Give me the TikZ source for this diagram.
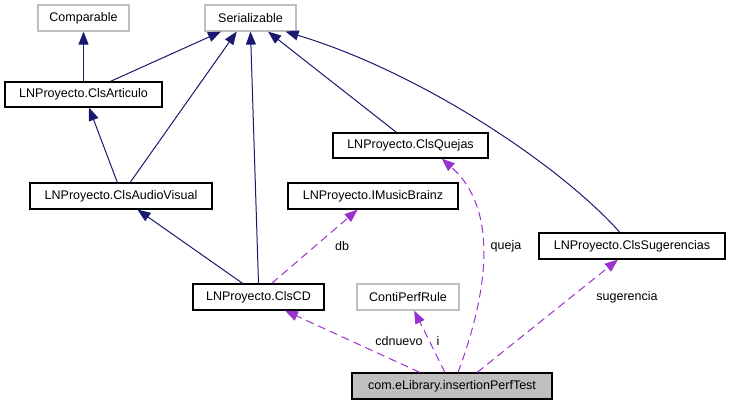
\documentclass[tikz,border=0pt]{standalone}
\usepackage{fontspec}
\setmainfont{Liberation Sans}
\usetikzlibrary{arrows.meta,calc}
\definecolor{navy}{RGB}{25,25,112}
\definecolor{orchid}{RGB}{154,50,205}
\definecolor{lgray}{RGB}{191,191,191}
\begin{document}
\begin{tikzpicture}[x=1bp,y=-1bp,
  txt/.style={font=\fontsize{12.5bp}{14bp}\selectfont},
  cls/.style={txt,draw=black,line width=1.2bp,rectangle,inner sep=0pt,minimum height=26bp},
  ext/.style={cls,draw=lgray},
  cur/.style={cls,fill=lgray},
  inh/.style={draw=navy,line width=1bp,-{Triangle[length=13bp,width=10bp]}},
  use/.style={draw=orchid,line width=1bp,dash pattern=on 8bp off 5bp,-{Triangle[length=13bp,width=10bp]}},
  lbl/.style={txt,inner sep=0pt}]
\useasboundingbox (0,0) rectangle (730,405);
\fill[white] (0,0) rectangle (730,405);
% nodes
\node[ext, minimum width=91bp] (comp) at (83.5,18) {Comparable};
\node[ext, minimum width=91bp] (ser) at (250.5,18) {Serializable};
\node[cls, minimum width=157bp, minimum height=25bp] (art) at (83.5,94.5) {LNProyecto.ClsArticulo};
\node[cls, minimum width=182bp] (av) at (121,196) {LNProyecto.ClsAudioVisual};
\node[cls, minimum width=131bp] (cd) at (258.5,297) {LNProyecto.ClsCD};
\node[cls, minimum width=170bp] (imb) at (373,196) {LNProyecto.IMusicBrainz};
\node[cls, minimum width=155bp, minimum height=25bp] (quej) at (410.5,145.5) {LNProyecto.ClsQuejas};
\node[cls, minimum width=186bp] (sug) at (632,246) {LNProyecto.ClsSugerencias};
\node[ext, minimum width=102bp] (conti) at (408,297) {ContiPerfRule};
\node[cur, minimum width=200bp] (test) at (452,386) {com.eLibrary.insertionPerfTest};
% labels
\node[lbl] (ldb) at (342,246) {db};
\node[lbl] (lqueja) at (506,246) {queja};
\node[lbl] (lcd) at (399,341) {cdnuevo};
\node[lbl] (li) at (438,341) {i};
\node[lbl] (lsug) at (627,297) {sugerencia};
% inheritance
\draw[inh] (art.north) -- (comp.south);
\draw[inh] ($(art.north west)!0.67!(art.north east)$) -- ($(ser.south west)!0.18!(ser.south east)$);
\draw[inh] ($(av.north west)!0.55!(av.north east)$) -- ($(ser.south west)!0.35!(ser.south east)$);
\draw[inh] ($(av.north west)!0.48!(av.north east)$) -- ($(art.south west)!0.535!(art.south east)$);
\draw[inh] ($(cd.north west)!0.5!(cd.north east)$) -- ($(ser.south west)!0.5!(ser.south east)$);
\draw[inh] ($(cd.north west)!0.38!(cd.north east)$) -- ($(av.south west)!0.59!(av.south east)$);
\draw[inh] ($(quej.north west)!0.41!(quej.north east)$) -- ($(ser.south west)!0.69!(ser.south east)$);
\draw[inh] ($(sug.north west)!0.435!(sug.north east)$) .. controls (560,165) and (420,72) .. ($(ser.south west)!0.88!(ser.south east)$);
% usage
\draw[use] ($(cd.north west)!0.6!(cd.north east)$) -- ($(imb.south west)!0.41!(imb.south east)$);
\draw[use] ($(test.north west)!0.34!(test.north east)$) -- ($(cd.south west)!0.70!(cd.south east)$);
\draw[use] ($(test.north west)!0.465!(test.north east)$) -- ($(conti.south west)!0.56!(conti.south east)$);
\draw[use] ($(test.north west)!0.53!(test.north east)$) .. controls (485,300) and (502,212) .. ($(quej.south west)!0.70!(quej.south east)$);
\draw[use] ($(test.north west)!0.625!(test.north east)$) -- ($(sug.south west)!0.425!(sug.south east)$);
\end{tikzpicture}
\end{document}
